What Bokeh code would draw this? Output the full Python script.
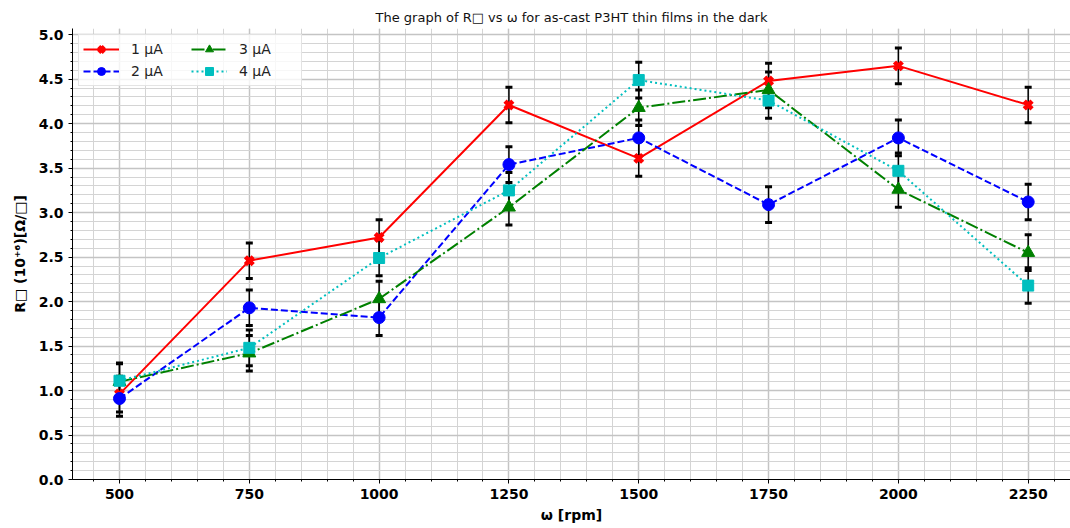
from bokeh.plotting import figure
from bokeh.models import (ColumnDataSource, Whisker, TeeHead, SingleIntervalTicker,
                          Range1d, Legend, LegendItem, CustomJSTickFormatter)
from bokeh.embed import file_html
from bokeh.resources import INLINE

rpm = [500, 750, 1000, 1250, 1500, 1750, 2000, 2250]
r_1uA = [0.96, 2.46, 2.72, 4.21, 3.61, 4.48, 4.65, 4.21]
r_2uA = [0.91, 1.93, 1.82, 3.54, 3.84, 3.09, 3.84, 3.12]
r_3uA = [1.10, 1.42, 2.03, 3.06, 4.18, 4.38, 3.26, 2.55]
r_4uA = [1.11, 1.48, 2.49, 3.25, 4.49, 4.26, 3.47, 2.18]
err = [0.2] * 8
labels = ["1 μA", "2 μA", "3 μA", "4 μA"]

FONT = "DejaVu Sans"

p = figure(width=1070, height=528, output_backend="svg", toolbar_location=None,
           x_range=Range1d(409.5, 2331.5), y_range=Range1d(0, 5.07),
           title="The graph of R□ vs ω for as-cast P3HT thin films in the dark",
           min_border_left=72, min_border_right=0, min_border_top=28, min_border_bottom=49)

p.title.align = "center"
p.title.text_font = FONT
p.title.text_font_style = "normal"
p.title.text_font_size = "13px"
p.title.text_color = "#111111"
p.title.offset = 8
p.title.standoff = 7

p.outline_line_color = None
p.background_fill_color = "white"

p.xaxis.ticker = SingleIntervalTicker(interval=250, num_minor_ticks=5)
p.yaxis.ticker = SingleIntervalTicker(interval=0.5, num_minor_ticks=5)
p.yaxis.formatter = CustomJSTickFormatter(code="return tick.toFixed(1);")

for ax in (p.xaxis, p.yaxis):
    ax.major_label_text_font = FONT
    ax.major_label_text_font_style = "bold"
    ax.major_label_text_font_size = "14px"
    ax.major_label_text_color = "black"
    ax.axis_label_text_font = FONT
    ax.axis_label_text_font_style = "bold"
    ax.axis_label_text_font_size = "14px"
    ax.axis_label_text_color = "black"
    ax.axis_line_color = "black"
    ax.axis_line_width = 1
    ax.major_tick_line_color = "black"
    ax.minor_tick_line_color = "black"
    ax.major_tick_out = 4
    ax.major_tick_in = 0
    ax.minor_tick_out = 2
    ax.minor_tick_in = 0

p.xaxis.axis_label = "ω [rpm]"
p.yaxis.axis_label = "R□ (10⁺⁶)[Ω/□]"
p.xaxis.axis_label_standoff = 5
p.yaxis.axis_label_standoff = 8
p.xaxis.major_label_standoff = 5
p.yaxis.major_label_standoff = 5

for g in (p.xgrid, p.ygrid):
    g.grid_line_color = "#c4c4c4"
    g.grid_line_width = 1.5
    g.minor_grid_line_color = "#d4d4d4"
    g.minor_grid_line_width = 1

series = [
    (r_1uA, "#ff0000", "solid", "x"),
    (r_2uA, "#0000ff", "7 3", "circle"),
    (r_3uA, "#008000", "13 3 2 3", "triangle"),
    (r_4uA, "#00bfbf", "2 3", "square"),
]

items = []
sources = []
for vals, color, dash, marker in series:
    src = ColumnDataSource(dict(x=rpm, y=vals,
                                lo=[v - e for v, e in zip(vals, err)],
                                hi=[v + e for v, e in zip(vals, err)]))
    sources.append(src)
    ln = p.line("x", "y", source=src, line_color=color, line_width=2, line_dash=dash)
    if marker == "x":
        sc = p.scatter("x", "y", source=src, marker="x", size=11,
                       line_color=color, line_width=4.5)
    else:
        size = {"circle": 12, "triangle": 13, "square": 11}[marker]
        sc = p.scatter("x", "y", source=src, marker=marker, size=size,
                       fill_color=color, line_color=color)
    items.append((ln, sc))

for src in sources:
    w = Whisker(source=src, base="x", lower="lo", upper="hi",
                line_color="black", line_width=1.5,
                upper_head=TeeHead(size=7, line_width=3, line_color="black"),
                lower_head=TeeHead(size=7, line_width=3, line_color="black"))
    p.add_layout(w)

legend = Legend(items=[LegendItem(label=lab, renderers=list(r)) for lab, r in zip(labels, items)],
                location="top_left", ncols=2)
legend.label_text_font = FONT
legend.label_text_font_size = "14px"
legend.label_text_color = "#222222"
legend.background_fill_alpha = 0.8
legend.border_line_color = "#dddddd"
legend.border_line_alpha = 0.8
legend.glyph_width = 36
legend.glyph_height = 20
legend.label_width = 58
legend.label_height = 20
legend.spacing = 2
legend.padding = 4
legend.margin = 6
legend.label_standoff = 12
legend.item_background_fill_alpha = 0
p.add_layout(legend)

open("out.html", "w").write(file_html(p, INLINE))
